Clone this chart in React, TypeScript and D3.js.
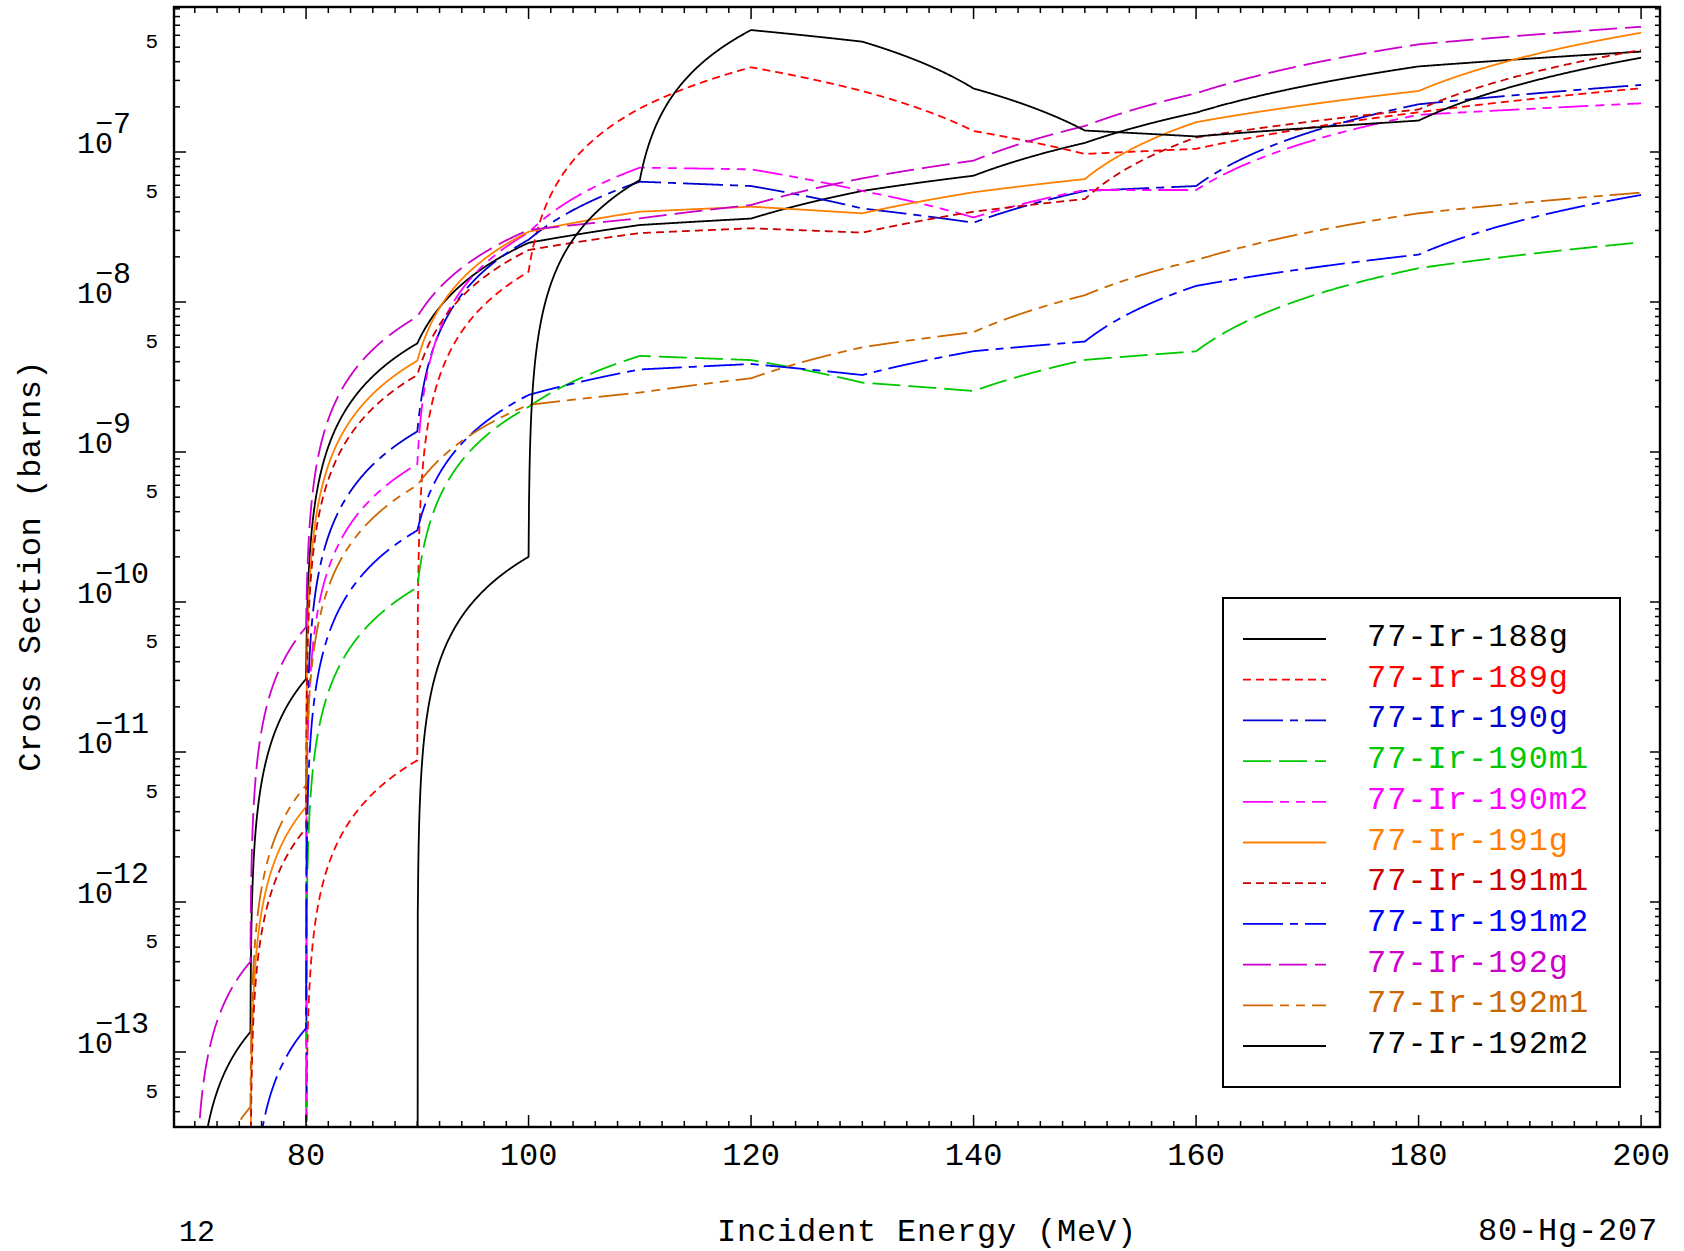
import React from 'react';
import * as d3 from 'd3';

// ---------------- data ----------------
const ENERGY = [70, 75, 80, 90, 100, 110, 120, 130, 140, 150, 160, 180, 200];

const IR188G = [0, 1.36e-13, 3.07e-11, 5.3e-9, 2.48e-8, 3.26e-8, 3.6e-8, 5.5e-8, 6.95e-8, 1.15e-7, 1.83e-7, 3.72e-7, 4.67e-7];
const IR189G = [0, 0, 0, 8.8e-12, 1.59e-8, 1.95e-7, 3.67e-7, 2.55e-7, 1.38e-7, 9.7e-8, 1.05e-7, 1.84e-7, 2.66e-7];
const IR190G = [0, 0, 0, 1.37e-9, 2.6e-8, 6.34e-8, 5.93e-8, 4.2e-8, 3.38e-8, 5.5e-8, 5.93e-8, 2.08e-7, 2.8e-7];
const IR190M1 = [0, 0, 0, 1.25e-10, 2.0e-9, 4.37e-9, 4.1e-9, 2.9e-9, 2.55e-9, 4.11e-9, 4.69e-9, 1.68e-8, 2.5e-8];
const IR190M2 = [0, 0, 0, 8.3e-10, 2.9e-8, 7.87e-8, 7.66e-8, 5.5e-8, 3.66e-8, 5.58e-8, 5.58e-8, 1.77e-7, 2.11e-7];
const IR191G = [0, 0, 4.3e-12, 4.06e-9, 2.94e-8, 4.0e-8, 4.32e-8, 3.9e-8, 5.39e-8, 6.6e-8, 1.58e-7, 2.55e-7, 6.24e-7];
const IR191M1 = [0, 0, 3.1e-12, 3.26e-9, 2.22e-8, 2.88e-8, 3.1e-8, 2.9e-8, 4.0e-8, 4.86e-8, 1.25e-7, 1.92e-7, 4.79e-7];
const IR191M2 = [0, 0, 1.44e-13, 3.0e-10, 2.4e-9, 3.55e-9, 3.86e-9, 3.26e-9, 4.7e-9, 5.45e-9, 1.28e-8, 2.07e-8, 5.17e-8];
const IR192G = [0, 4.0e-13, 6.8e-11, 7.98e-9, 3.02e-8, 3.61e-8, 4.43e-8, 6.67e-8, 8.76e-8, 1.49e-7, 2.46e-7, 5.22e-7, 6.84e-7];
const IR192M1 = [0, 4.3e-14, 6.0e-12, 6.0e-10, 2.06e-9, 2.49e-9, 3.1e-9, 4.99e-9, 6.3e-9, 1.11e-8, 1.9e-8, 3.9e-8, 5.36e-8];
const IR192M2 = [0, 0, 0, 0, 2.0e-10, 6.5e-8, 6.5e-7, 5.44e-7, 2.65e-7, 1.39e-7, 1.27e-7, 1.62e-7, 4.25e-7];

const SERIES_LABELS = [
  '77-Ir-188g', '77-Ir-189g', '77-Ir-190g', '77-Ir-190m1', '77-Ir-190m2', '77-Ir-191g',
  '77-Ir-191m1', '77-Ir-191m2', '77-Ir-192g', '77-Ir-192m1', '77-Ir-192m2',
];
const SERIES_VALUES = [IR188G, IR189G, IR190G, IR190M1, IR190M2, IR191G, IR191M1, IR191M2, IR192G, IR192M1, IR192M2];

const X_TICK_LABELS = [80, 100, 120, 140, 160, 180, 200];
const Y_DECADE_LABELS = [-13, -12, -11, -10, -9, -8, -7];
const X_TITLE = 'Incident Energy (MeV)';
const Y_TITLE = 'Cross Section (barns)';
const LEFT_NOTE = '12';
const RIGHT_NOTE = '80-Hg-207';

// ---------------- styles ----------------
const COLORS = ['#000000', '#ff0000', '#0000d0', '#00c800', '#ff00ff', '#ff8000', '#cc0000', '#0000ff', '#cc00cc', '#cc6600', '#000000'];
const DASHES = [
  'none', '8,5', '40,7,8,7', '28,8', '30,7,9,7,9,7',
  'none', '8,5', '40,7,8,7', '28,8', '30,7,9,7,9,7', 'none',
];

const W = 1684;
const H = 1251;
const L = 174, R = 1660, T = 7, B = 1127;
const FONT = '"Liberation Mono", "DejaVu Sans Mono", monospace';
const FLOOR = 1e-18;

const x = d3.scaleLinear().domain([68.13, 201.7]).range([L, R]);
const y = d3.scaleLog().domain([Math.pow(10, -13.5), Math.pow(10, -6.0333)]).range([B, T]);

// lin-lin interpolation between tabulated points, drawn on the log axis
function sampled(values: number[]): [number, number][] {
  const pts: [number, number][] = [];
  const N = 240;
  for (let i = 0; i < ENERGY.length - 1; i++) {
    const e0 = ENERGY[i], e1 = ENERGY[i + 1];
    const v0 = values[i], v1 = values[i + 1];
    for (let k = i === 0 ? 0 : 1; k <= N; k++) {
      const t = k / N;
      pts.push([e0 + t * (e1 - e0), v0 + t * (v1 - v0)]);
    }
  }
  return pts;
}

const lineGen = d3
  .line<[number, number]>()
  .x((d) => x(d[0]))
  .y((d) => y(Math.max(d[1], FLOOR)));

export default function App() {
  const xMinor = d3.range(68, 202, 2).filter((v) => x(v) >= L && x(v) <= R);
  const yTicks: { v: number; m: number; d: number }[] = [];
  for (let d = -14; d <= -6; d++) {
    for (let m = 1; m <= 9; m++) {
      const v = m * Math.pow(10, d);
      const py = y(v);
      if (py >= T && py <= B) yTicks.push({ v, m, d });
    }
  }
  const legendY0 = 639;
  const legendStep = 40.7;

  return (
    <svg
      width={W}
      height={H}
      viewBox={`0 0 ${W} ${H}`}
      style={{ position: 'absolute', left: 0, top: 0, background: '#fff' }}
      fontFamily={FONT}
    >
      <rect x={0} y={0} width={W} height={H} fill="#fff" />
      <defs>
        <clipPath id="plotclip">
          <rect x={L} y={T} width={R - L} height={B - T} />
        </clipPath>
      </defs>

      {/* series */}
      <g clipPath="url(#plotclip)">
        {SERIES_VALUES.map((vals, i) => (
          <path
            key={SERIES_LABELS[i]}
            d={lineGen(sampled(vals)) || ''}
            fill="none"
            stroke={COLORS[i]}
            strokeWidth={1.8}
            strokeDasharray={DASHES[i]}
            strokeLinejoin="round"
          />
        ))}
      </g>

      {/* x ticks (top & bottom, inward) */}
      {xMinor.map((v) => {
        const major = v % 20 === 0;
        const len = major ? 12 : 6;
        const px = x(v);
        return (
          <g key={'xt' + v} stroke="#000" strokeWidth={1.5}>
            <line x1={px} x2={px} y1={B} y2={B - len} />
            <line x1={px} x2={px} y1={T} y2={T + len} />
          </g>
        );
      })}
      {/* y ticks (left & right, inward) */}
      {yTicks.map((t) => {
        const py = y(t.v);
        const major = t.m === 1;
        return (
          <g key={'yt' + t.v} stroke="#000" strokeWidth={1.5}>
            <line x1={L} x2={L + (major ? 12 : 6)} y1={py} y2={py} />
            <line x1={R} x2={R - (major ? 10 : 5)} y1={py} y2={py} />
          </g>
        );
      })}

      {/* frame */}
      <rect x={L} y={T} width={R - L} height={B - T} fill="none" stroke="#000" strokeWidth={2.4} />

      {/* x tick labels */}
      {X_TICK_LABELS.map((v) => (
        <text key={'xl' + v} x={x(v)} y={1165} fontSize={32} textAnchor="middle" fill="#000">
          {v}
        </text>
      ))}

      {/* y tick labels */}
      {Y_DECADE_LABELS.map((d) => (
        <text key={'yd' + d} x={77} y={y(Math.pow(10, d)) + 1} fontSize={30} fill="#000">
          10
          <tspan dx={-18} dy={-20}>{'\u2212' + Math.abs(d)}</tspan>
        </text>
      ))}
      {yTicks
        .filter((t) => t.m === 5)
        .map((t) => (
          <text key={'y5' + t.v} x={158} y={y(t.v) + 1} fontSize={21} textAnchor="end" fill="#000">
            5
          </text>
        ))}

      {/* titles */}
      <text x={927} y={1241} fontSize={32} letterSpacing={0.8} textAnchor="middle" fill="#000">
        {X_TITLE}
      </text>
      <text
        transform={`translate(40, 566) rotate(-90)`}
        fontSize={32}
        letterSpacing={0.4}
        textAnchor="middle"
        fill="#000"
      >
        {Y_TITLE}
      </text>
      <text x={179} y={1241} fontSize={30} fill="#000">
        {LEFT_NOTE}
      </text>
      <text x={1658} y={1240} fontSize={32} letterSpacing={0.8} textAnchor="end" fill="#000">
        {RIGHT_NOTE}
      </text>

      {/* legend */}
      <rect x={1223} y={598} width={397} height={489} fill="#fff" stroke="#000" strokeWidth={2} />
      {SERIES_LABELS.map((lab, i) => {
        const ly = legendY0 + i * legendStep;
        return (
          <g key={'lg' + lab}>
            <line
              x1={1243}
              x2={1326}
              y1={ly}
              y2={ly}
              stroke={COLORS[i]}
              strokeWidth={1.8}
              strokeDasharray={DASHES[i]}
            />
            <text x={1367} y={ly + 7} fontSize={32} letterSpacing={1} fill={COLORS[i]}>
              {lab}
            </text>
          </g>
        );
      })}
    </svg>
  );
}
